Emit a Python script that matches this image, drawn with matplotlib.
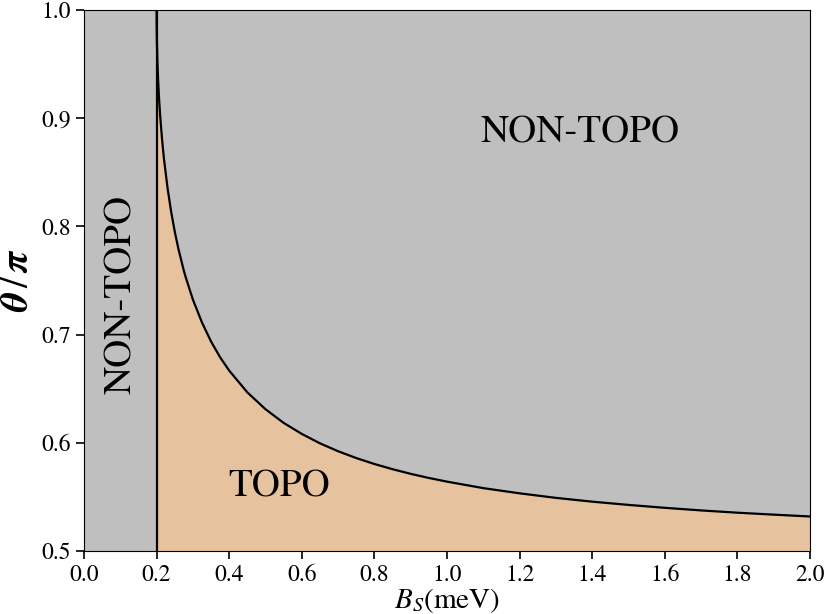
import matplotlib
matplotlib.use("Agg")
import matplotlib.pyplot as plt

plt.rcParams['font.family'] = ['STIXGeneral', 'DejaVu Serif']
plt.rcParams['mathtext.fontset'] = 'stix'

# phase boundary theta/pi vs B_S (meV)
bs = [0.2, 0.2002, 0.2005, 0.201, 0.202, 0.203, 0.205, 0.207, 0.21, 0.215, 0.22,
      0.23, 0.24, 0.25, 0.26, 0.275, 0.28, 0.3, 0.325, 0.35, 0.375, 0.4, 0.45,
      0.5, 0.55, 0.6, 0.65, 0.7, 0.75, 0.8, 0.85, 0.9, 0.95, 1.0, 1.1, 1.2,
      1.3, 1.4, 1.5, 1.6, 1.7, 1.8, 1.9, 2.0]
theta = [1.0, 0.9858, 0.9775, 0.9682, 0.9552, 0.9452, 0.9296, 0.9170, 0.9014, 0.8806, 0.8632,
         0.8359, 0.8136, 0.7952, 0.7793, 0.7591, 0.7532, 0.7323, 0.7112, 0.6936, 0.6790, 0.6667, 0.6466,
         0.6310, 0.6184, 0.6082, 0.5995, 0.5922, 0.5859, 0.5804, 0.5756, 0.5713, 0.5675, 0.5641,
         0.5581, 0.5533, 0.5491, 0.5456, 0.5426, 0.5399, 0.5375, 0.5354, 0.5336, 0.5319]
b_crit = 0.2

gris = '#bfbfbf'
naranja = '#e6c29e'

fig = plt.figure(figsize=(8.26, 6.14), dpi=100)
ax = fig.add_axes([84/826, 63/614, 726/826, 541/614])
ax.set_facecolor(gris)

ax.fill_between(bs, 0.5, theta, color=naranja, lw=0)
ax.plot(bs, theta, color='k', lw=1.6)
ax.axvline(b_crit, color='k', lw=1.6)

ax.set_xlim(0, 2.0)
ax.set_ylim(0.5, 1.0)
ax.set_xticks([0.0, 0.2, 0.4, 0.6, 0.8, 1.0, 1.2, 1.4, 1.6, 1.8, 2.0])
ax.set_yticks([0.5, 0.6, 0.7, 0.8, 0.9, 1.0])
ax.tick_params(labelsize=17, length=6, width=1.2)

ax.set_xlabel(r'$B_S$(meV)', fontsize=21, labelpad=0)
ax.set_ylabel(r'$\boldsymbol{\theta}\,/\,\boldsymbol{\pi}$', fontsize=28, labelpad=4)

ax.text(1.366, 0.886, 'NON-TOPO', fontsize=28, ha='center', va='center')
ax.text(0.537, 0.559, 'TOPO', fontsize=28, ha='center', va='center')
ax.text(0.105, 0.737, 'NON-TOPO', fontsize=28, ha='center', va='center', rotation=90)

fig.savefig('out.png', dpi=100)
